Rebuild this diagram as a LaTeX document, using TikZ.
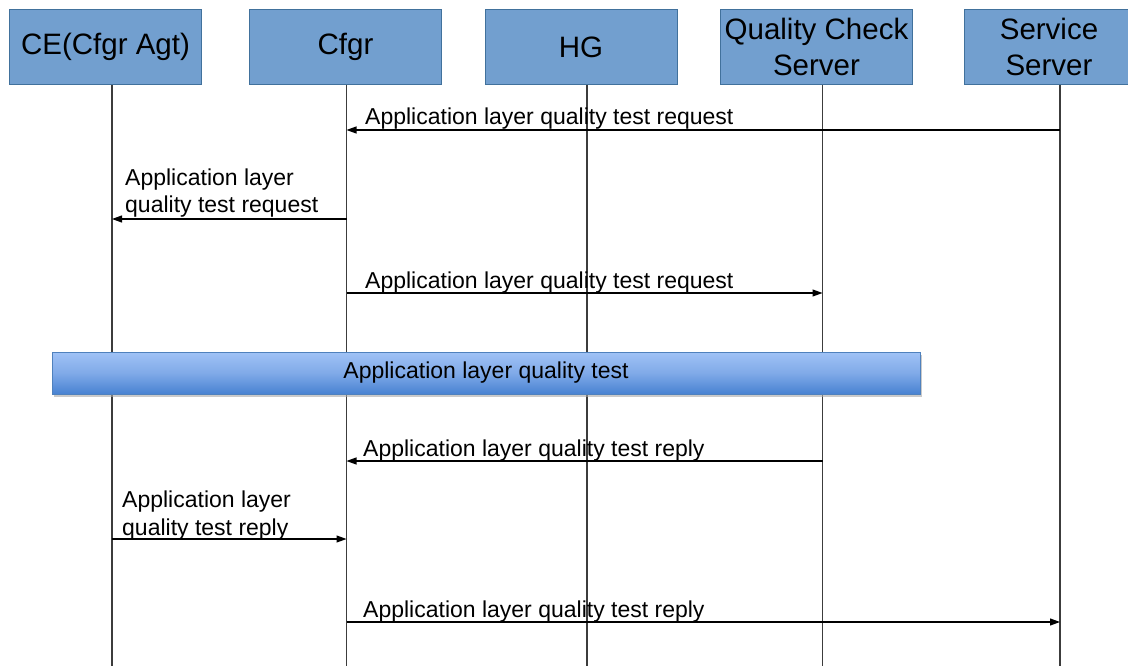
\documentclass[tikz,border=0pt]{standalone}
\usepackage{fontspec}
\setmainfont{Liberation Sans}
\usetikzlibrary{arrows.meta,shadows}
\definecolor{boxfill}{RGB}{114,159,207}
\definecolor{boxline}{RGB}{65,113,156}
\definecolor{bartop}{RGB}{160,194,246}
\definecolor{barmid}{RGB}{128,170,232}
\definecolor{barbot}{RGB}{72,130,210}
\definecolor{barline}{RGB}{79,129,189}
\definecolor{lifegray}{RGB}{60,60,60}
\begin{document}
\begin{tikzpicture}[x=1pt,y=-1pt,
  actor/.style={draw=boxline, line width=1pt, fill=boxfill,
    minimum width=192pt, minimum height=75pt, inner sep=0pt,
    align=center, font=\fontsize{29.5}{36}\selectfont},
  life/.style={draw=lifegray, line width=1.1pt},
  msg/.style={draw=black, line width=1.1pt, -{Triangle[length=10pt,width=7pt]}},
  lbl/.style={anchor=base west, inner sep=0pt, align=left,
    font=\fontsize{23}{28}\selectfont},
  phase/.style={draw=barline, line width=1pt, top color=bartop, bottom color=barbot,
    middle color=barmid, minimum width=868pt, minimum height=42pt, inner sep=0pt,
    font=\fontsize{23}{26}\selectfont,
    drop shadow={shadow xshift=2pt, shadow yshift=-3pt, fill=black!35, opacity=0.6}}]
\useasboundingbox (0,0) rectangle (1128,666);
\clip (0,0) rectangle (1128,666);

% participants
\node[actor] (ce)   at (105.5,47) {CE(Cfgr Agt)};
\node[actor] (cfgr) at (345.5,47) {Cfgr};
\node[actor] (hg)   at (581,47)   {HG};
\node[actor] (qcs)  at (816.5,47) {Quality Check\\Server};
\node[actor, minimum width=170pt] (srv) at (1049,47) {Service\\Server};

% lifelines
\coordinate (ceTop)   at (112,85);  \coordinate (ceBot)   at (112,666);
\coordinate (cfgrTop) at (346.5,85);\coordinate (cfgrBot) at (346.5,666);
\coordinate (hgTop)   at (587,85);  \coordinate (hgBot)   at (587,666);
\coordinate (qcsTop)  at (822.5,85);\coordinate (qcsBot)  at (822.5,666);
\coordinate (srvTop)  at (1060,85); \coordinate (srvBot)  at (1060,666);
\draw[life] (ceTop) -- (ceBot);
\draw[life] (cfgrTop) -- (cfgrBot);
\draw[life] (hgTop) -- (hgBot);
\draw[life] (qcsTop) -- (qcsBot);
\draw[life] (srvTop) -- (srvBot);

% message rows
\coordinate (r1) at (0,130);
\coordinate (r2) at (0,219);
\coordinate (r3) at (0,293);
\coordinate (r5) at (0,461);
\coordinate (r6) at (0,539);
\coordinate (r7) at (0,622);

% requests
\draw[msg] (srvTop |- r1) -- (cfgrTop |- r1);
\node[lbl] (t1) at (365,125) {Application layer quality test request};
\draw[msg] (cfgrTop |- r2) -- (ceTop |- r2);
\node[lbl] (t2) at (125,213) {Application layer\\quality test request};
\draw[msg] (cfgrTop |- r3) -- (qcsTop |- r3);
\node[lbl] (t3) at (365,288) {Application layer quality test request};

% test phase
\node[phase] (test) at (486,373) {Application layer quality test};

% replies
\draw[msg] (qcsTop |- r5) -- (cfgrTop |- r5);
\node[lbl] (t5) at (363,456) {Application layer quality test reply};
\draw[msg] (ceTop |- r6) -- (cfgrTop |- r6);
\node[lbl] (t6) at (122,535) {Application layer\\quality test reply};
\draw[msg] (cfgrTop |- r7) -- (srvTop |- r7);
\node[lbl] (t7) at (363,617) {Application layer quality test reply};
\end{tikzpicture}
\end{document}
